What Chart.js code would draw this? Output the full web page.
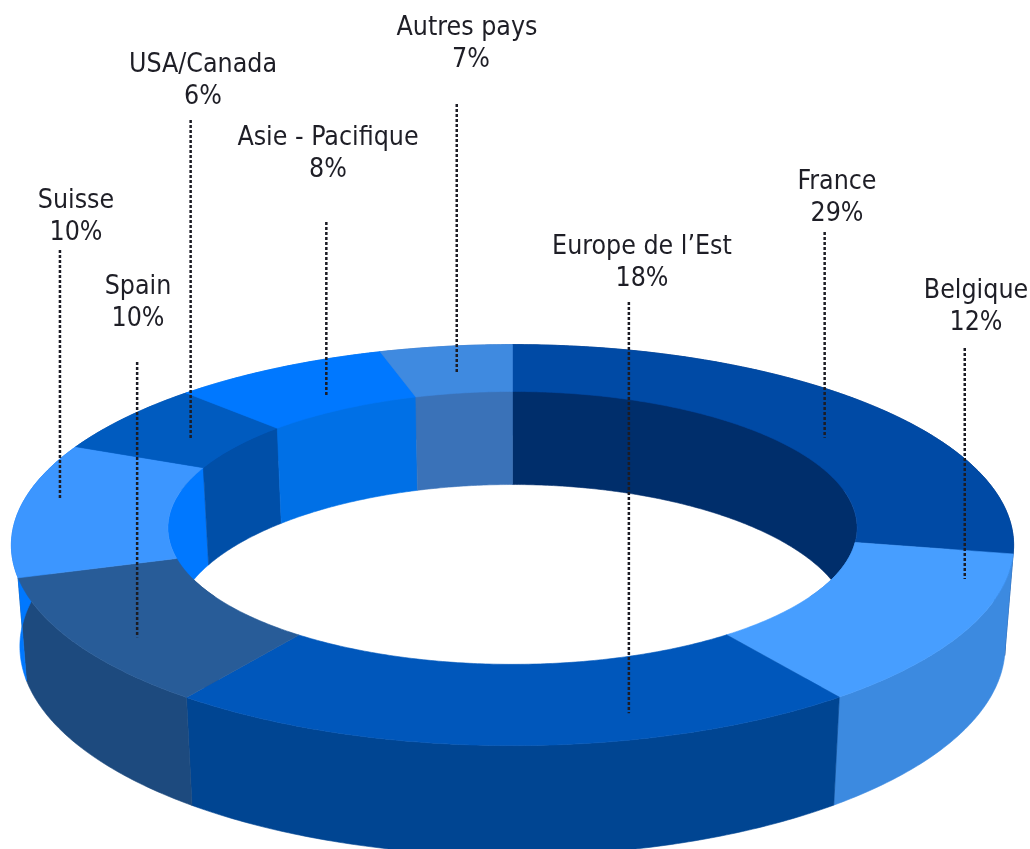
<!DOCTYPE html>
<html>
<head>
<meta charset="utf-8">
<script src="https://cdn.jsdelivr.net/npm/chart.js@4"></script>
<style>html,body{margin:0;padding:0;background:#fff}canvas{display:block;filter:blur(.5px)}</style>
</head>
<body>
<canvas id="c" width="1030" height="849"></canvas>
<script>
const categories = ['France','Belgique','Europe de l\u2019Est','Spain','Suisse','USA/Canada','Asie - Pacifique','Autres pays'];
const shares = [29,12,18,10,10,6,8,7];
const topColors   = ['#004aa5','#479eff','#0057bb','#285c98','#3c96ff','#005bbf','#0078ff','#3f8ae0'];
const outerColors = ['#00387f','#3c8ae0','#004592','#1d4a7e','#0078ff','#004fa8','#0070e6','#3a72b8'];
const innerColors = ['#002e6b','#3c8ae0','#004592','#1d4a7e','#0078ff','#004fa8','#0070e6','#3a72b8'];

// Reference's slice ends sit slightly off the exact percentages (degrees, per slice end).
const endSkewDeg = [-.4,-1.3,1.2,1,4.4,5.2,6.5,0];

// Callout layout: where the label text sits and where each leader starts/lands within its slice.
const labelCentres = [[837,182],[976,291],[642,247],[138,287],[76,201],[203,65],[328,138],[467,28]];
const valueCentreX = [837,976,642,138,76,203,328,471];
const leaderTops   = [232,348,302,362,250,120,222,104];
const leaderAlong  = [.579,.199,.316,.411,.579,.424,.522,.508];
const leaderRadius = [.79,.926,.906,.901,.929,.801,.786,.826];

const view = {cx:512.5, y0:505, a:491, b:192.5, p:.2, depth:99.3, q:.097, shrink:.983, innerDrop:13, wallLimit:-.6};
function project(theta, r, lower){
  const u=r*Math.sin(theta), v=r*Math.cos(theta), w=1+view.p*v;
  let x=view.a*u/w, y=view.y0-view.b*v/w+view.innerDrop*(1-r);
  if(lower){ y+=view.depth/(1+view.q*v); x*=view.shrink; }
  return [view.cx+x,y];
}
function band(ctx,t0,t1,r0,low0,r1,low1,colour){
  const n=Math.max(4,Math.ceil((t1-t0)/0.01));
  ctx.beginPath();
  for(let i=0;i<=n;i++){const p=project(t0+(t1-t0)*i/n,r0,low0); i?ctx.lineTo(p[0],p[1]):ctx.moveTo(p[0],p[1]);}
  for(let i=n;i>=0;i--){const p=project(t0+(t1-t0)*i/n,r1,low1); ctx.lineTo(p[0],p[1]);}
  ctx.closePath();
  ctx.fillStyle=colour; ctx.strokeStyle=colour; ctx.lineWidth=.6;
  ctx.fill(); ctx.stroke();
}
const ring3d = {
  id:'ring3d',
  beforeDatasetsDraw(chart){
    const ctx=chart.ctx, arcs=chart.getDatasetMeta(0).data, rad=Math.PI/180;
    const geo=arcs.map((a,i)=>({
      t0:a.startAngle+Math.PI/2+(i?endSkewDeg[i-1]:0)*rad,
      t1:a.endAngle+Math.PI/2+endSkewDeg[i]*rad,
      rho:a.innerRadius/a.outerRadius}));
    const limit=Math.acos(view.wallLimit);
    ctx.save();
    geo.forEach((g,i)=>band(ctx,g.t0,g.t1,1,false,1,true,outerColors[i]));
    geo.forEach((g,i)=>{
      // only the part of the inner wall that faces the viewer
      const a=Math.min(g.t1,limit), b=Math.max(g.t0,2*Math.PI-limit);
      if(a>g.t0) band(ctx,g.t0,a,g.rho,false,g.rho,true,innerColors[i]);
      if(g.t1>b) band(ctx,b,g.t1,g.rho,false,g.rho,true,innerColors[i]);
    });
    geo.forEach((g,i)=>band(ctx,g.t0,g.t1,1,false,g.rho,false,topColors[i]));
    // leaders
    ctx.strokeStyle='#1c1c24'; ctx.lineWidth=2.5; ctx.setLineDash([3,2]);
    geo.forEach((g,i)=>{
      const p=project(g.t0+(g.t1-g.t0)*leaderAlong[i],leaderRadius[i],false);
      ctx.beginPath(); ctx.moveTo(p[0],leaderTops[i]); ctx.lineTo(p[0],p[1]); ctx.stroke();
    });
    ctx.setLineDash([]);
    // labels
    ctx.fillStyle='#1e1e26'; ctx.font='26.5px "DejaVu Sans Condensed","DejaVu Sans",sans-serif';
    ctx.textAlign='center'; ctx.textBaseline='middle';
    categories.forEach((name,i)=>{
      ctx.fillText(name,labelCentres[i][0],labelCentres[i][1]);
      ctx.fillText(shares[i]+'%',valueCentreX[i],labelCentres[i][1]+32);
    });
    ctx.restore();
    return false;
  }
};
new Chart(document.getElementById('c'),{
  type:'doughnut',
  data:{labels:categories,datasets:[{data:shares,backgroundColor:topColors,borderWidth:0}]},
  options:{responsive:false,animation:false,cutout:'69.5%',rotation:0,
    plugins:{legend:{display:false},tooltip:{enabled:false}}},
  plugins:[ring3d]
});
</script>
</body>
</html>
